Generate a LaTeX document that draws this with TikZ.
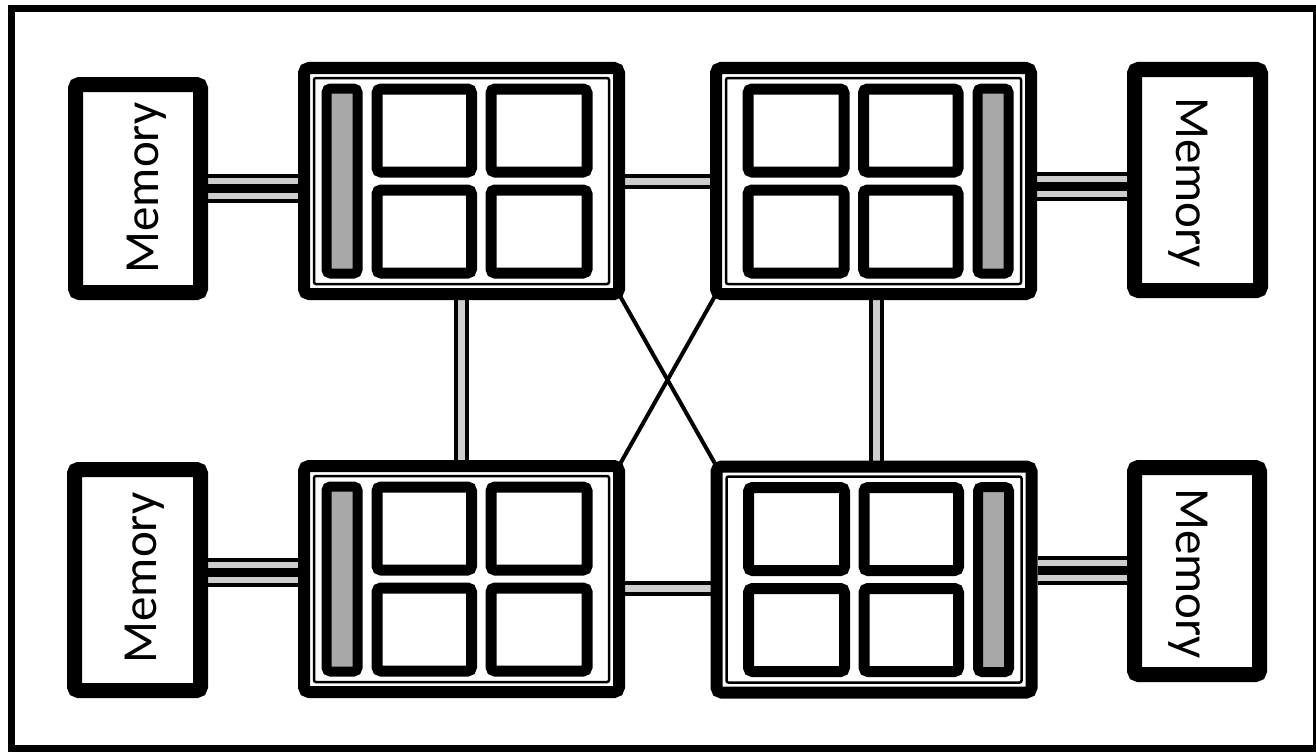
\documentclass[tikz,border=0pt]{standalone}
\usepackage{fontspec}
\setmainfont{Carlito}
\usetikzlibrary{backgrounds}
\definecolor{cachegray}{RGB}{168,168,168}
\definecolor{linkgap}{RGB}{205,205,205}
\begin{document}
\begin{tikzpicture}[x=1pt,y=-1pt,
  mem/.style={draw, line width=15pt, rounded corners=4pt, fill=white, inner sep=0pt},
  memtext/.style={font=\fontsize{49}{49}\selectfont, inner sep=0pt},
  proc/.style={draw, line width=12pt, rounded corners=5pt, fill=white, inner sep=0pt,
               minimum width=315pt, minimum height=226pt},
  ring/.style={draw, line width=2.5pt, rounded corners=2pt},
  core/.style={draw, line width=11pt, rounded corners=4pt, fill=white},
  cachebar/.style={draw, line width=10pt, rounded corners=4pt, fill=cachegray},
  triplelink/.style={line width=9pt, preaction={draw, line width=29pt},
                     preaction={draw=linkgap, line width=21pt}},
  doublelink/.style={line width=4pt, double=linkgap, double distance=7pt},
  crosslink/.style={line width=4pt},
  frame/.style={draw, line width=7pt}
]
\useasboundingbox (0,0) rectangle (1316,752);
\draw[frame] (11.5,8.5) rectangle (1316,748);

% memories
\node[mem, minimum width=125pt, minimum height=208pt] (M1) at (138,188.5) {};
\node[mem, minimum width=126pt, minimum height=221pt] (M2) at (1197.5,180) {};
\node[mem, minimum width=126pt, minimum height=221pt] (M3) at (137.5,580) {};
\node[mem, minimum width=125pt, minimum height=207pt] (M4) at (1197,571) {};

% processors
\node[proc] (P1) at (461.5,181) {};
\node[proc] (P2) at (873.5,181) {};
\node[proc] (P3) at (461.5,579) {};
\node[proc] (P4) at (874,579.5) {};

\begin{scope}[on background layer]
\fill[white] (0,0) rectangle (1316,752);
% processor-processor links
\draw[doublelink] (P1.east) -- (P2.west);
\draw[doublelink] ([yshift=-9pt]P3.east) -- ([yshift=-9pt]P3.east -| P4.west);
\draw[doublelink] (P1.south) -- (P3.north);
\draw[doublelink] ([xshift=2.5pt]P2.south) -- ([xshift=2.5pt]P2.south |- P4.north);
\draw[crosslink] ([shift={(-5,-4)}]P1.south east) -- ([shift={(5,4)}]P4.north west);
\draw[crosslink] ([shift={(5,-4)}]P2.south west) -- ([shift={(-5,4)}]P3.north east);
% memory links
\draw[triplelink] (M1.east) -- (M1.east -| P1.west);
\draw[triplelink] ([yshift=-6pt]M2.west) -- ([yshift=-6pt]M2.west -| P2.east);
\draw[triplelink] ([yshift=7.5pt]M3.east) -- ([yshift=7.5pt]M3.east -| P3.west);
\draw[triplelink] ([yshift=1pt]M4.west) -- ([yshift=1pt]M4.west -| P4.east);
\end{scope}

% processor contents: cache bar on the left
\foreach \p in {P1,P3} {
  \begin{scope}[shift={(\p.north west)}]
    \draw[ring] (16,16) rectangle (311,222);
    \draw[cachebar] (28.5,26.5) rectangle (59.5,211.5);
    \draw[core] (79,27) rectangle (173.5,110);
    \draw[core] (193,27) rectangle (289,110);
    \draw[core] (79,128) rectangle (173.5,211);
    \draw[core] (193,128) rectangle (289,211);
  \end{scope}
}
% processor contents: cache bar on the right
\foreach \p in {P2,P4} {
  \begin{scope}[shift={(\p.north west)}]
    \draw[ring] (16,16) rectangle (311,222);
    \draw[cachebar] (267.5,26.5) rectangle (298.5,211.5);
    \draw[core] (38,27) rectangle (134,110);
    \draw[core] (153.5,27) rectangle (248,110);
    \draw[core] (38,128) rectangle (134,211);
    \draw[core] (153.5,128) rectangle (248,211);
  \end{scope}
}

% memory labels
\node[memtext, rotate=90] (M1t) at (146.5,188) {Memory};
\node[memtext, rotate=-90] (M2t) at (1188,182.5) {Memory};
\node[memtext, rotate=90] (M3t) at (145,578) {Memory};
\node[memtext, rotate=-90] (M4t) at (1188,573.5) {Memory};
\end{tikzpicture}
\end{document}
